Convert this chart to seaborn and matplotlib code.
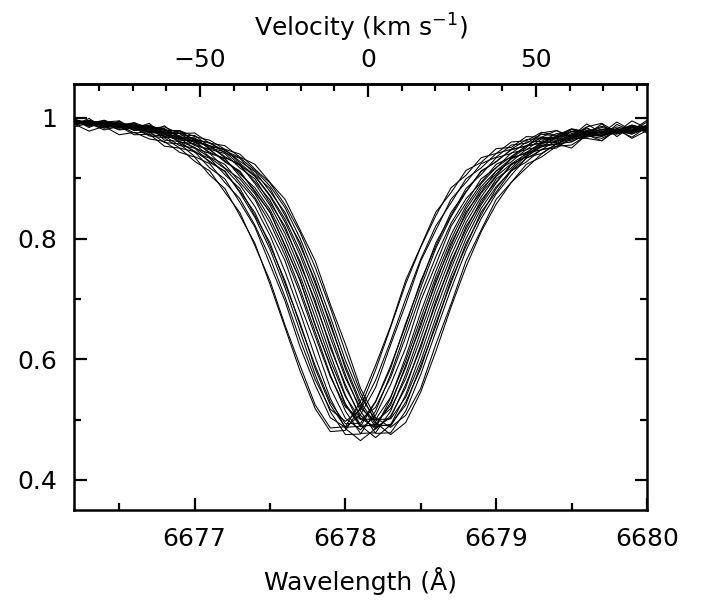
import numpy as np
import pandas as pd
import matplotlib
matplotlib.use("Agg")
import matplotlib.pyplot as plt
import seaborn as sns
from matplotlib.ticker import MultipleLocator, FixedLocator, FuncFormatter

# common wavelength grid (Angstrom)
wave = [6676.1, 6676.2, 6676.3, 6676.4, 6676.5, 6676.6, 6676.7, 6676.8, 6676.9, 6677.0,
        6677.1, 6677.2, 6677.3, 6677.4, 6677.5, 6677.6, 6677.7, 6677.8, 6677.9, 6678.0,
        6678.1, 6678.2, 6678.3, 6678.4, 6678.5, 6678.6, 6678.7, 6678.8, 6678.9, 6679.0,
        6679.1, 6679.2, 6679.3, 6679.4, 6679.5, 6679.6, 6679.7, 6679.8, 6679.9, 6680.0,
        6680.1]

# normalised flux of each He I 6678 spectrum
spec_a1 = [.996, .985, .991, .980, .986, .972, .973, .953, .950, .928,
           .912, .877, .843, .788, .730, .656, .589, .524, .486, .488,
           .530, .590, .655, .731, .787, .844, .876, .913, .926, .949,
           .951, .969, .968, .979, .969, .990, .975, .993, .979, .996, .985]
spec_a2 = [.981, .990, .978, .986, .972, .976, .965, .961, .943, .935,
           .905, .883, .838, .792, .724, .652, .580, .518, .480, .482,
           .520, .582, .653, .725, .786, .838, .884, .905, .934, .941,
           .960, .962, .976, .971, .982, .977, .986, .979, .988, .982, .990]
spec_b1 = [.990, .996, .986, .990, .980, .983, .970, .967, .950, .944,
           .917, .899, .860, .819, .757, .696, .620, .557, .503, .487,
           .508, .553, .624, .691, .763, .814, .865, .893, .924, .935,
           .955, .958, .973, .970, .981, .976, .984, .978, .988, .981, .990]
spec_b2 = [.997, .988, .992, .983, .987, .975, .977, .959, .957, .936,
           .924, .893, .866, .822, .768, .703, .632, .566, .517, .497,
           .516, .565, .630, .700, .766, .821, .859, .899, .917, .941,
           .948, .964, .966, .966, .981, .972, .990, .969, .986, .975, .992]
spec_c1 = [1.004, .988, .999, .983, .995, .979, .986, .963, .961, .943,
           .933, .906, .883, .838, .793, .725, .660, .584, .524, .487,
           .489, .529, .585, .660, .726, .793, .838, .883, .906, .934,
           .941, .960, .961, .974, .971, .982, .974, .985, .979, .988, .981]
spec_c2 = [.990, .995, .987, .990, .981, .984, .972, .970, .954, .950,
           .926, .912, .876, .835, .782, .718, .646, .574, .513, .475,
           .476, .514, .575, .647, .719, .784, .836, .877, .912, .927,
           .948, .953, .968, .967, .978, .975, .981, .978, .986, .981, .988]
spec_c3 = [.991, .994, .988, .985, .990, .979, .983, .982, .958, .945,
           .928, .911, .878, .843, .788, .730, .656, .589, .529, .493,
           .494, .530, .589, .656, .730, .788, .843, .878, .911, .928,
           .947, .954, .967, .968, .977, .976, .980, .979, .985, .986, .983]
spec_d1 = [.991, .997, .988, .993, .983, .987, .975, .975, .960, .957,
           .935, .923, .893, .865, .814, .763, .691, .625, .552, .502,
           .483, .507, .558, .619, .697, .757, .820, .859, .899, .917,
           .942, .947, .965, .963, .977, .973, .981, .976, .986, .980, .989]
spec_d2 = [.996, .990, .994, .986, .989, .980, .982, .968, .966, .950,
           .941, .917, .899, .868, .826, .772, .709, .638, .571, .521,
           .500, .520, .570, .637, .707, .770, .825, .866, .893, .923,
           .935, .954, .958, .970, .970, .985, .991, .976, .995, .983, .998]
spec_d3 = [.993, .990, .995, .987, .988, .981, .977, .973, .961, .951,
           .934, .916, .889, .853, .805, .745, .677, .603, .535, .485,
           .465, .485, .536, .604, .678, .746, .806, .854, .891, .918,
           .936, .953, .959, .969, .971, .979, .975, .982, .980, .986, .983]
spec_e1 = [.997, .990, .995, .987, .990, .980, .984, .970, .970, .954,
           .948, .927, .912, .877, .844, .787, .731, .655, .590, .524,
           .488, .492, .524, .590, .655, .731, .787, .844, .877, .912,
           .927, .948, .952, .967, .966, .979, .971, .982, .977, .986, .980]
spec_e2 = [.992, .996, .989, .993, .984, .988, .977, .978, .963, .962,
           .941, .933, .903, .874, .833, .780, .716, .645, .574, .514,
           .477, .478, .514, .575, .646, .717, .781, .834, .875, .904,
           .934, .941, .960, .959, .974, .972, .978, .975, .984, .980, .987]
spec_e3 = [.995, .994, .990, .991, .985, .986, .979, .976, .965, .960,
           .943, .932, .907, .884, .848, .799, .738, .669, .598, .538,
           .501, .500, .537, .597, .668, .737, .798, .849, .886, .912,
           .933, .951, .975, .979, .966, .984, .969, .989, .978, .993, .981]
spec_e4 = [.993, .991, .994, .988, .989, .982, .983, .972, .968, .956,
           .947, .929, .910, .879, .843, .789, .730, .657, .588, .526,
           .491, .489, .528, .586, .660, .726, .792, .840, .882, .907,
           .932, .943, .958, .961, .972, .973, .977, .980, .979, .985, .982]
spec_f1 = [.992, .997, .990, .995, .986, .990, .979, .981, .968, .967,
           .948, .941, .917, .899, .859, .820, .757, .697, .619, .558,
           .502, .487, .503, .558, .619, .697, .757, .820, .859, .899,
           .917, .942, .947, .963, .963, .977, .970, .981, .976, .986, .980]
spec_f2 = [.996, .991, .995, .988, .991, .983, .986, .974, .974, .959,
           .954, .934, .923, .891, .855, .808, .749, .681, .608, .540,
           .490, .470, .491, .541, .609, .682, .750, .809, .856, .892,
           .923, .935, .955, .956, .971, .969, .978, .974, .983, .979, .987]
spec_f3 = [.985, .997, .984, .996, .983, .992, .975, .987, .966, .965,
           .950, .944, .922, .903, .870, .827, .772, .707, .636, .569,
           .519, .497, .518, .568, .635, .706, .771, .826, .869, .903,
           .924, .940, .954, .957, .969, .971, .976, .979, .978, .984, .981]
spec_f4 = [.993, .996, .992, .989, .984, .987, .984, .976, .967, .962,
           .953, .936, .921, .894, .864, .815, .762, .692, .624, .553,
           .507, .484, .506, .553, .624, .692, .762, .815, .864, .894,
           .922, .936, .952, .957, .966, .975, .972, .980, .977, .983, .986]
spec_g1 = [.998, .991, .996, .989, .993, .984, .987, .975, .977, .963,
           .959, .942, .933, .906, .883, .838, .793, .725, .661, .584,
           .524, .488, .492, .524, .590, .655, .731, .787, .844, .877,
           .912, .927, .948, .950, .967, .966, .962, .980, .968, .985, .970]
spec_g2 = [.993, .997, .990, .995, .987, .990, .981, .982, .970, .971,
           .952, .948, .925, .904, .872, .832, .779, .716, .645, .574,
           .514, .477, .478, .514, .575, .646, .716, .780, .833, .874,
           .905, .934, .941, .957, .960, .973, .969, .979, .974, .984, .980]
spec_g3 = [.996, .993, .994, .990, .991, .985, .986, .977, .975, .965,
           .958, .946, .934, .913, .887, .851, .800, .739, .670, .598,
           .538, .500, .501, .537, .597, .669, .738, .800, .850, .886,
           .912, .933, .947, .953, .965, .968, .974, .973, .980, .979, .985]
spec_g4 = [.994, .995, .992, .993, .995, .982, .991, .968, .979, .962,
           .954, .947, .928, .911, .878, .843, .788, .730, .656, .589,
           .529, .492, .489, .529, .585, .660, .726, .792, .839, .883,
           .914, .938, .957, .966, .961, .973, .970, .978, .976, .984, .981]
spec_h1 = [.993, .998, .991, .996, .988, .992, .983, .985, .974, .975,
           .958, .954, .935, .923, .893, .865, .814, .763, .691, .625,
           .552, .503, .487, .507, .552, .625, .691, .763, .814, .865,
           .893, .923, .935, .953, .955, .971, .966, .978, .973, .983, .979]
spec_h2 = [.997, .994, .995, .992, .992, .987, .988, .979, .979, .969,
           .963, .948, .940, .915, .892, .856, .810, .752, .685, .612,
           .545, .495, .475, .495, .546, .613, .686, .753, .811, .857,
           .893, .917, .940, .957, .950, .972, .962, .982, .966, .979, .972]

rest_wave = 6678.15
c_kms = 299792.458

spectra = {
    'a1': spec_a1, 'a2': spec_a2, 'b1': spec_b1, 'b2': spec_b2,
    'c1': spec_c1, 'c2': spec_c2, 'c3': spec_c3,
    'd1': spec_d1, 'd2': spec_d2, 'd3': spec_d3,
    'e1': spec_e1, 'e2': spec_e2, 'e3': spec_e3, 'e4': spec_e4,
    'f1': spec_f1, 'f2': spec_f2, 'f3': spec_f3, 'f4': spec_f4,
    'g1': spec_g1, 'g2': spec_g2, 'g3': spec_g3, 'g4': spec_g4,
    'h1': spec_h1, 'h2': spec_h2,
}
rows = [(name, w, f) for name, fl in spectra.items() for w, f in zip(wave, fl)]
df = pd.DataFrame(rows, columns=['spec', 'wave', 'flux'])

sns.set_theme(style="ticks")
plt.rcParams['font.family'] = ['DejaVu Sans']
for key in ['axes.edgecolor', 'xtick.color', 'ytick.color',
            'text.color', 'axes.labelcolor']:
    plt.rcParams[key] = 'black'

fig = plt.figure(figsize=(7.06, 6.05), dpi=100)
ax = fig.add_axes([0.1048, 0.157, 0.8116, 0.704])

sns.lineplot(data=df, x='wave', y='flux', units='spec', estimator=None,
             color='black', lw=0.75, legend=False, ax=ax)

ax.set_xlim(6676.2, 6680.0)
ax.set_ylim(0.35, 1.056)

ax.xaxis.set_major_locator(MultipleLocator(1))
ax.xaxis.set_minor_locator(MultipleLocator(0.5))
ax.yaxis.set_major_locator(MultipleLocator(0.2))
ax.yaxis.set_minor_locator(MultipleLocator(0.1))
ax.xaxis.set_major_formatter(FuncFormatter(lambda v, p: f'{v:.0f}'))
ax.yaxis.set_major_formatter(FuncFormatter(lambda v, p: f'{v:g}'))
ax.tick_params(which='both', direction='in', top=False, right=True,
               width=1.6, labelsize=18)
ax.tick_params(which='major', length=9, pad=12)
ax.tick_params(which='minor', length=5)
for sp in ax.spines.values():
    sp.set_linewidth(1.8)

ax.set_xlabel('Wavelength (Å)', fontsize=18, labelpad=12)
ax.set_ylabel('')


def wl2v(w):
    return (np.asarray(w) - rest_wave) / rest_wave * c_kms


def v2wl(v):
    return rest_wave * (1 + np.asarray(v) / c_kms)


secax = ax.secondary_xaxis('top', functions=(wl2v, v2wl))
secax.xaxis.set_major_locator(FixedLocator([-50, 0, 50]))
secax.xaxis.set_minor_locator(FixedLocator([-80, -70, -60, -40, -30, -20, -10,
                                            10, 20, 30, 40, 60, 70, 80]))
secax.xaxis.set_major_formatter(FuncFormatter(lambda v, p: f'{v:.0f}'.replace('-', '\u2212')))
secax.tick_params(which='both', direction='in', width=1.6, labelsize=18)
secax.tick_params(which='major', length=9, pad=9)
secax.tick_params(which='minor', length=5)
secax.spines['top'].set_linewidth(1.8)
secax.set_xlabel('Velocity (km s$^{-1}$)', fontsize=18, labelpad=8)

fig.savefig('out.png', dpi=100)
